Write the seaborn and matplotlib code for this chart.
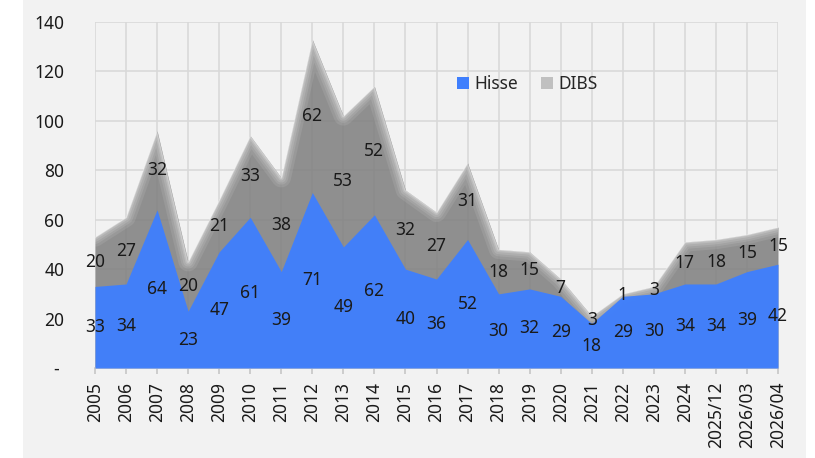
import numpy as np
import pandas as pd
import matplotlib
matplotlib.use("Agg")
import matplotlib.pyplot as plt
from matplotlib.patches import Rectangle, Patch
import seaborn as sns

categories = ["2005", "2006", "2007", "2008", "2009", "2010", "2011", "2012", "2013",
              "2014", "2015", "2016", "2017", "2018", "2019", "2020", "2021", "2022",
              "2023", "2024", "2025/12", "2026/03", "2026/04"]
hisse = [33, 34, 64, 23, 47, 61, 39, 71, 49, 62, 40, 36, 52, 30, 32, 29, 18, 29, 30, 34, 34, 39, 42]
dibs = [20, 27, 32, 20, 21, 33, 38, 62, 53, 52, 32, 27, 31, 18, 15, 7, 3, 1, 3, 17, 18, 15, 15]
y_ticks = [0, 20, 40, 60, 80, 100, 120, 140]
y_tick_labels = ["- ", "20", "40", "60", "80", "100", "120", "140"]

sns.set_theme(style="white")
plt.rcParams["font.family"] = ["Noto Sans", "DejaVu Sans"]

BLUE = "#3f7ffd"
GRAY = "#7e7e7e"
BG = "#f2f2f2"
FS = 12.5

fig = plt.figure(figsize=(8.15, 4.58), dpi=100)
fig.patch.set_facecolor("white")
fig.patches.append(Rectangle((23 / 815, 0), (806 - 23) / 815, 1, transform=fig.transFigure,
                             facecolor=BG, edgecolor="none", zorder=-10))
ax = fig.add_axes([95 / 815, (458 - 368) / 458, (778 - 95) / 815, (368 - 22) / 458])
ax.set_facecolor(BG)

df = pd.DataFrame({"x": np.arange(len(categories)), "Hisse": hisse, "DIBS": dibs})
df["Total"] = df["Hisse"] + df["DIBS"]
x = df["x"].values

ax.fill_between(x, 0, df["Hisse"], color=BLUE, linewidth=0, alpha=0.96, zorder=3)
gray_poly = ax.fill_between(x, 0, df["Total"], color=GRAY, linewidth=0, alpha=0.85, zorder=2)

# soft edge on the top of the DIBS area
clip_path = gray_poly.get_paths()[0]
for lw, a in [(14, 0.10), (10, 0.12), (7, 0.15), (4, 0.2), (2, 0.3)]:
    sns.lineplot(data=df, x="x", y="Total", ax=ax, color=BG, linewidth=lw, alpha=a, zorder=2.2)
for line in ax.lines:
    line.set_clip_path(clip_path, ax.transData)
    line.set_solid_joinstyle("round")

for xi, h, d in zip(x, hisse, dibs):
    ax.text(xi, h / 2, str(h), ha="center", va="center", fontsize=FS, color="#1a1a1a", zorder=5)
    ax.text(xi, h + d / 2, str(d), ha="center", va="center", fontsize=FS, color="#1a1a1a", zorder=5)

ax.set_xlim(0, len(categories) - 1)
ax.set_ylim(0, 140)
ax.set_xticks(x)
ax.set_xticklabels(categories, rotation=90, fontsize=FS, color="#1a1a1a")
ax.set_yticks(y_ticks)
ax.set_yticklabels(y_tick_labels, fontsize=FS, color="#1a1a1a")
ax.grid(True, color="#d9d9d9", linewidth=1.2, zorder=0)
ax.set_axisbelow(True)
ax.set_xlabel("")
ax.set_ylabel("")
for s in ["left", "top", "right"]:
    ax.spines[s].set_visible(False)
ax.spines["bottom"].set_color("#c8c8c8")
ax.spines["bottom"].set_linewidth(1.2)
ax.tick_params(axis="x", bottom=True, length=4, color="#c8c8c8", pad=6)
ax.tick_params(axis="y", left=False, pad=16)

handles = [Patch(facecolor=BLUE, edgecolor="none"), Patch(facecolor="#c0c0c0", edgecolor="none")]
ax.legend(handles, ["Hisse", "DIBS"], loc="center", bbox_to_anchor=((527 - 95) / 683, (368 - 84) / 346),
          ncol=2, frameon=False, fontsize=FS, handlelength=0.7, handleheight=0.7,
          columnspacing=1.3, handletextpad=0.3)

fig.savefig("out.png", dpi=100, facecolor=fig.get_facecolor())
